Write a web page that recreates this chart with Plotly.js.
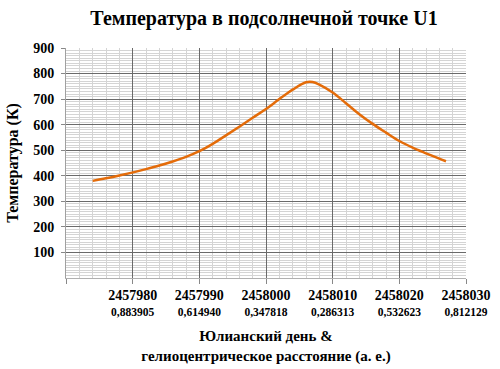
<!DOCTYPE html>
<html>
<head>
<meta charset="utf-8">
<script src="https://cdn.plot.ly/plotly-3.0.1.min.js"></script>
<style>body{margin:0;background:#fff}#chart{width:500px;height:369px}</style>
</head>
<body>
<div id="chart"></div>
<script>
// Julian day of the readings
const julianDays = [2457974, 2457976, 2457978, 2457980, 2457982, 2457984, 2457986, 2457988,
  2457990, 2457992, 2457994, 2457996, 2457998, 2458000, 2458002, 2458004, 2458006, 2458007,
  2458008, 2458010, 2458012, 2458014, 2458016, 2458018, 2458020, 2458022, 2458024, 2458026, 2458027];
// Sub-solar temperature, K
const temperatures = [380, 390, 401, 413, 426, 440, 456, 474,
  496, 525, 558, 592, 627, 661, 700, 737, 766, 767,
  757, 726, 684, 641, 603, 569, 536, 510, 488, 467, 457];
// Axis tick labels
const xTickDays = [2457970, 2457980, 2457990, 2458000, 2458010, 2458020, 2458030];
const xTickDistances = ['', '0,883905', '0,614940', '0,347818', '0,286313', '0,532623', '0,812129'];
const yTickValues = [100, 200, 300, 400, 500, 600, 700, 800, 900];

const titleText = 'Температура в подсолнечной точке U1';
const xTitleText = 'Юлианский день &<br>гелиоцентрическое расстояние (а. е.)';
const yTitleText = 'Температура (К)';

const serif = 'Liberation Serif';

const xTickText = xTickDays.map((d, i) => i === 0 ? '' :
  '<span style="font-size:14px">' + d + '</span><br><span style="font-size:11.5px">' + xTickDistances[i] + '</span>');

const trace = {
  x: julianDays, y: temperatures, type: 'scatter', mode: 'lines',
  line: {color: '#E46C0A', width: 2.5, shape: 'spline', smoothing: 1},
  hoverinfo: 'skip'
};

const layout = {
  width: 500, height: 369,
  margin: {l: 66, r: 34, t: 48, b: 91},
  paper_bgcolor: '#fff', plot_bgcolor: '#fff',
  showlegend: false,
  font: {family: serif, color: '#000', weight: 'bold'},
  title: {text: titleText, x: 0.528, xanchor: 'center', y: 0.951, yanchor: 'middle',
    font: {family: serif, size: 20, color: '#000', weight: 'bold'}},
  xaxis: {
    range: [2457970, 2458030], tickmode: 'array', tickvals: xTickDays, ticktext: xTickText,
    tickangle: 0,
    ticks: 'outside', ticklen: 5, tickcolor: '#888', ticklabelstandoff: 2,
    showgrid: true, gridcolor: '#6a6a6a', gridwidth: 1,
    minor: {dtick: 2, tick0: 2457970, showgrid: true, gridcolor: '#d4d4d4', gridwidth: 1, ticks: ''},
    showline: true, linecolor: '#b0b0b0', linewidth: 1, mirror: false,
    zeroline: false,
    tickfont: {family: serif, size: 12, color: '#000', weight: 'bold'},
    title: {text: xTitleText, standoff: 13, font: {family: serif, size: 15, color: '#000', weight: 'bold'}},
    automargin: false, fixedrange: true
  },
  yaxis: {
    range: [0, 900], tickmode: 'array', tickvals: yTickValues,
    ticks: 'outside', ticklen: 4, tickcolor: '#888', ticklabelstandoff: 4,
    showgrid: true, gridcolor: '#6a6a6a', gridwidth: 1,
    minor: {dtick: 10, tick0: 0, showgrid: true, gridcolor: '#d4d4d4', gridwidth: 1, ticks: ''},
    showline: true, linecolor: '#a0a0a0', linewidth: 1,
    zeroline: false,
    tickfont: {family: serif, size: 14, color: '#000', weight: 'bold'},
    title: {text: yTitleText, standoff: 10, font: {family: serif, size: 16, color: '#000', weight: 'bold'}},
    automargin: false, fixedrange: true
  }
};

Plotly.newPlot('chart', [trace], layout, {displayModeBar: false, staticPlot: true});
</script>
</body>
</html>
